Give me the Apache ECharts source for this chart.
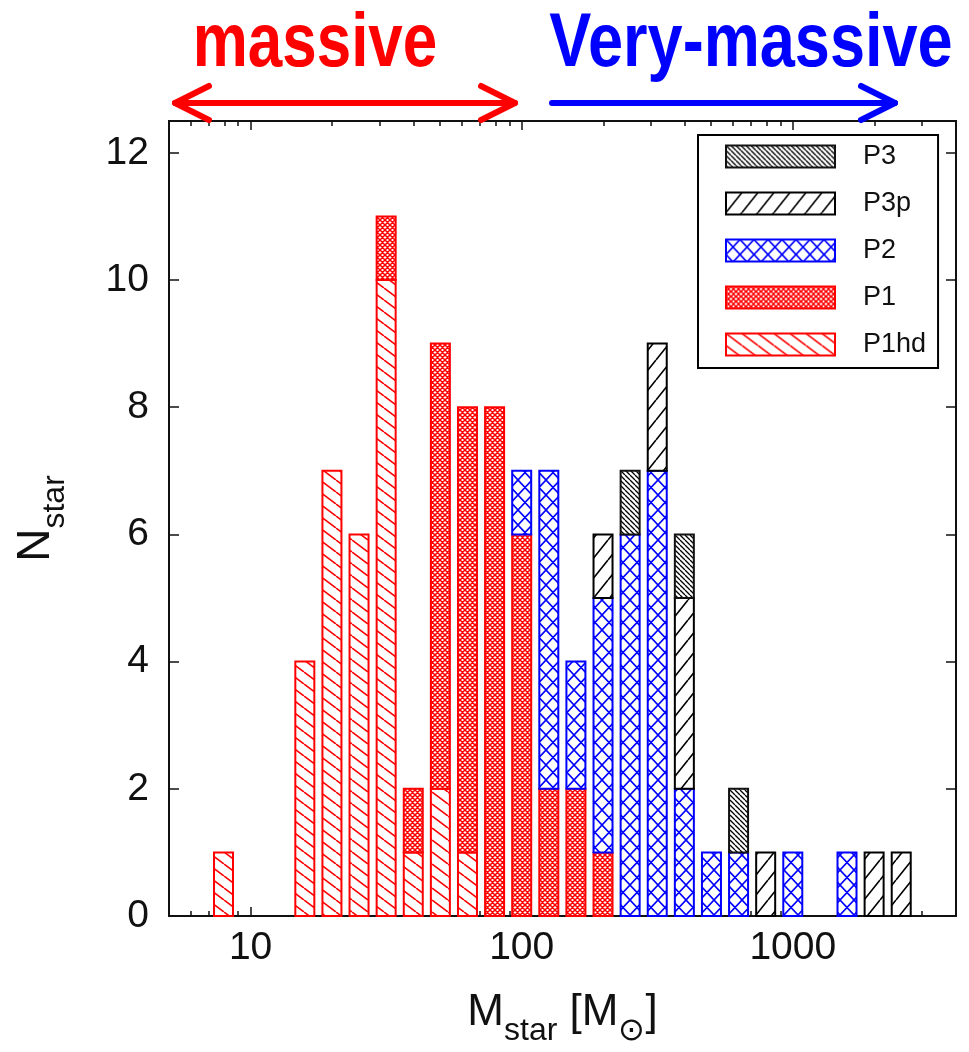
<!DOCTYPE html>
<html>
<head>
<meta charset="utf-8">
<script src="https://cdn.jsdelivr.net/npm/echarts@6/dist/echarts.min.js"></script>
<style>
html,body{margin:0;padding:0;background:#fff;}
#chart{width:969px;height:1052px;}
</style>
</head>
<body>
<div id="chart"></div>
<script>
// ---- data ----
// bin centres, log10(M_star / M_sun), 0.1 dex bins
const binLogMass = [0.9,1.2,1.3,1.4,1.5,1.6,1.7,1.8,1.9,2.0,2.1,2.2,2.3,2.4,2.5,2.6,2.7,2.8,2.9,3.0,3.2,3.3,3.4];
const countsP1hd = [1,4,7,6,10,1,2,1,0,0,0,0,0,0,0,0,0,0,0,0,0,0,0];
const countsP1   = [0,0,0,0,1,1,7,7,8,6,2,2,1,0,0,0,0,0,0,0,0,0,0];
const countsP2   = [0,0,0,0,0,0,0,0,0,1,5,2,4,6,7,2,1,1,0,1,1,0,0];
const countsP3p  = [0,0,0,0,0,0,0,0,0,0,0,0,1,0,2,3,0,0,1,0,0,1,1];
const countsP3   = [0,0,0,0,0,0,0,0,0,0,0,0,0,1,0,1,0,1,0,0,0,0,0];
const seriesNames = ['P1hd','P1','P2','P3p','P3'];      // stacking order, bottom -> top
const legendOrder = ['P3','P3p','P2','P1','P1hd'];
const xMajorTicks = [10,100,1000];
const xMinorTicks = [6,7,8,9,20,30,40,50,60,70,80,90,200,300,400,500,600,700,800,900,2000,3000];
const yTicks = [0,2,4,6,8,10,12];
const titleLeft = 'massive';
const titleRight = 'Very-massive';

// ---- styling ----
const RED = '#ff0000', BLUE = '#0000ff', BLACK = '#000000';
function hatch(kind, color, w, h, lw) {
  const c = document.createElement('canvas');
  c.width = w; c.height = h;
  const g = c.getContext('2d');
  g.fillStyle = '#ffffff'; g.fillRect(0, 0, w, h);
  g.strokeStyle = color; g.lineWidth = lw; g.lineCap = 'butt';
  g.beginPath();
  for (let i = -2; i <= 2; i++) {
    if (kind === 'back' || kind === 'cross') { g.moveTo(i * w, 0); g.lineTo(i * w + w, h); }
    if (kind === 'fwd' || kind === 'cross') { g.moveTo(i * w, h); g.lineTo(i * w + w, 0); }
  }
  g.stroke();
  return { image: c, repeat: 'repeat' };
}
const styles = {
  P1hd: { fill: hatch('back', RED, 16, 12, 1.6), stroke: RED },
  P1:   { fill: hatch('cross', RED, 5, 5, 1.5), stroke: RED },
  P2:   { fill: hatch('cross', BLUE, 14, 15, 1.6), stroke: BLUE },
  P3p:  { fill: hatch('fwd', BLACK, 16, 20, 1.6), stroke: BLACK },
  P3:   { fill: hatch('back', BLACK, 5, 5, 1.3), stroke: '#111' }
};
const countsByName = { P1hd: countsP1hd, P1: countsP1, P2: countsP2, P3p: countsP3p, P3: countsP3 };

// build stacked segments
const base = binLogMass.map(() => 0);
const series = seriesNames.map(name => {
  const counts = countsByName[name];
  const data = [];
  counts.forEach((n, i) => {
    if (n > 0) data.push([Math.pow(10, binLogMass[i]), base[i], base[i] + n]);
    base[i] += n;
  });
  const st = styles[name];
  return {
    type: 'custom', name: name, xAxisIndex: 0, yAxisIndex: 0, z: 5,
    itemStyle: { color: st.fill, borderColor: st.stroke, borderWidth: 2 },
    encode: { x: 0, y: 2 },
    data: data,
    renderItem: function (params, api) {
      const pB = api.coord([api.value(0), api.value(1)]);
      const pT = api.coord([api.value(0), api.value(2)]);
      const bw = 19;
      return {
        type: 'rect',
        shape: { x: pB[0] - bw / 2, y: pT[1], width: bw, height: pB[1] - pT[1] },
        style: { fill: st.fill, stroke: st.stroke, lineWidth: 2 }
      };
    }
  };
});

const FONT = '"Liberation Sans", Arial, Helvetica, sans-serif';
const TICKCOL = '#111';
function xAxisDef(pos, ticks, len, showLabel) {
  return {
    type: 'log', logBase: 10, min: 5, max: 4000, position: pos,
    axisLine: { show: false },
    splitLine: { show: false },
    axisTick: { show: true, inside: true, length: len, customValues: ticks, lineStyle: { color: TICKCOL, width: 1.5 } },
    axisLabel: { show: showLabel, customValues: ticks, fontSize: 39, color: '#111', fontFamily: FONT, margin: 13,
                 formatter: function (v) { return String(Math.round(v)); } }
  };
}
const xAxes = [
  xAxisDef('bottom', xMajorTicks, 9, true),
  xAxisDef('bottom', xMinorTicks, 5, false),
  xAxisDef('top', xMajorTicks, 9, false),
  xAxisDef('top', xMinorTicks, 5, false)
];
xAxes[0].name = '{a|M}{s|star}{a| [M}{s|\u2299}{a|]}';
xAxes[0].nameLocation = 'middle';
xAxes[0].nameGap = 75;
xAxes[0].nameTextStyle = {
  rich: {
    a: { fontSize: 44, fontFamily: FONT, color: '#111', verticalAlign: 'bottom', padding: [0, 0, 12, 0] },
    s: { fontSize: 32, fontFamily: FONT, color: '#111', verticalAlign: 'bottom' }
  }
};
function yAxisDef(pos, showLabel) {
  return {
    type: 'value', min: 0, max: 12.5, position: pos,
    axisLine: { show: false },
    splitLine: { show: false },
    axisTick: { show: true, inside: true, length: 10, customValues: yTicks, lineStyle: { color: TICKCOL, width: 1.5 } },
    axisLabel: { show: showLabel, customValues: yTicks, fontSize: 39, color: '#111', fontFamily: FONT, margin: 20 }
  };
}
const yAxes = [yAxisDef('left', true), yAxisDef('right', false)];
yAxes[0].name = '{a|N}{s|star}';
yAxes[0].nameLocation = 'middle';
yAxes[0].nameRotate = 90;
yAxes[0].nameGap = 98;
yAxes[0].nameTextStyle = {
  rich: {
    a: { fontSize: 46, fontFamily: FONT, color: '#111', verticalAlign: 'bottom', padding: [0, 0, 12, 0] },
    s: { fontSize: 32, fontFamily: FONT, color: '#111', verticalAlign: 'bottom' }
  }
};

const TITLEFONT = 'bold 76px "Liberation Sans", Arial, sans-serif';
function arrowLine(points, color) {
  return { type: 'polyline', shape: { points: points }, style: { stroke: color, lineWidth: 6, fill: null, lineCap: 'round', lineJoin: 'round' }, z: 10 };
}

const option = {
  backgroundColor: '#ffffff',
  animation: false,
  grid: { left: 169, right: 13, top: 121, bottom: 136, show: true, borderColor: '#111', borderWidth: 2, backgroundColor: '#fff',
          containLabel: false, outerBoundsMode: 'none' },
  xAxis: xAxes,
  yAxis: yAxes,
  legend: {
    orient: 'vertical', left: 698, top: 135,
    data: legendOrder.map(n => ({ name: n, icon: 'rect', itemStyle: { borderColor: styles[n].stroke, borderWidth: 2 } })),
    itemWidth: 109, itemHeight: 22, itemGap: 20,
    padding: [8, 12, 10, 27],
    borderColor: '#000', borderWidth: 2, backgroundColor: '#fff',
    selectedMode: false,
    textStyle: { fontSize: 27, lineHeight: 22, color: '#111', fontFamily: FONT, padding: [0, 0, 0, 23] }
  },
  graphic: [
    { type: 'text', x: 315, y: 45, scaleX: 0.815, z: 10,
      style: { text: titleLeft, font: TITLEFONT, fill: RED, x: 0, y: 0, align: 'center', verticalAlign: 'middle' } },
    { type: 'text', x: 751, y: 45, scaleX: 0.83, z: 10,
      style: { text: titleRight, font: TITLEFONT, fill: BLUE, x: 0, y: 0, align: 'center', verticalAlign: 'middle' } },
    arrowLine([[175, 103], [515, 103]], RED),
    arrowLine([[209, 86], [175, 103], [209, 120]], RED),
    arrowLine([[481, 86], [515, 103], [481, 120]], RED),
    arrowLine([[552, 103], [895, 103]], BLUE),
    arrowLine([[861, 86], [895, 103], [861, 120]], BLUE)
  ],
  series: series
};

const chart = echarts.init(document.getElementById('chart'), null, { renderer: 'canvas' });
chart.setOption(option);
</script>
</body>
</html>
